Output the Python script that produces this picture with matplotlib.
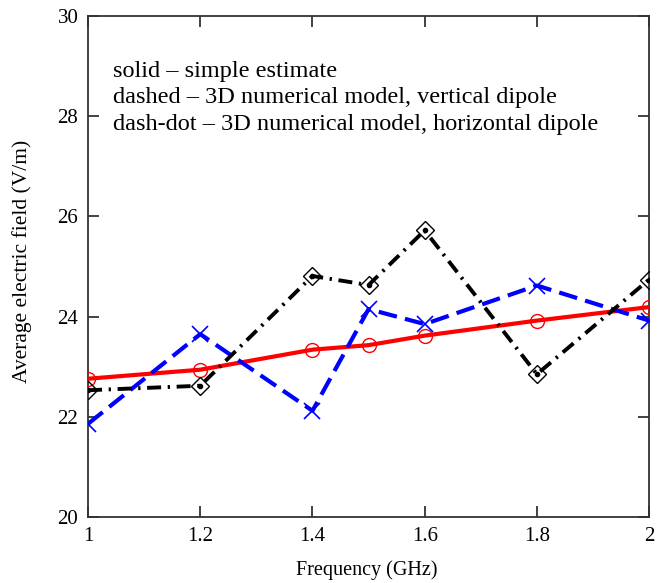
import matplotlib
matplotlib.use("Agg")
import matplotlib.pyplot as plt

plt.rcParams['font.family'] = ['Liberation Serif', 'DejaVu Serif']

# Frequency (GHz) and average electric field (V/m)
freq = [1.0, 1.2, 1.4, 1.5, 1.6, 1.8, 2.0]
simple_estimate = [22.76, 22.94, 23.34, 23.43, 23.62, 23.92, 24.19]
vertical_dipole = [21.86, 23.65, 22.12, 24.15, 23.85, 24.62, 23.92]
horizontal_dipole = [22.53, 22.62, 24.81, 24.63, 25.72, 22.85, 24.74]

xticks = [1, 1.2, 1.4, 1.6, 1.8, 2]
xtick_labels = ['1', '1.2', '1.4', '1.6', '1.8', '2']
yticks = [20, 22, 24, 26, 28, 30]

legend_lines = [
    'solid \u2013 simple estimate',
    'dashed \u2013 3D numerical model, vertical dipole',
    'dash-dot \u2013 3D numerical model, horizontal dipole',
]

fig = plt.figure(figsize=(6.57, 5.83), dpi=100)
ax = fig.add_axes([0.134, 0.1132, 0.854, 0.8594])

ax.plot(freq, simple_estimate, color='#ff0000', lw=3.0, solid_capstyle='butt',
        marker='o', ms=10, mfc='none', mec='#ff0000', mew=1.0, zorder=3)
ax.plot(freq, vertical_dipole, color='#0000ff', lw=3.0, dashes=(4.5, 2.0),
        marker='x', ms=12, mec='#0000ff', mew=1.2, zorder=3)
ax.plot(freq, horizontal_dipole, color='black', lw=2.8, dashes=(3.6, 1.7, 0.6, 1.7),
        marker='D', ms=9, mfc='none', mec='black', mew=1.0, zorder=4)
# small center dots inside the diamonds
ax.plot(freq, horizontal_dipole, ls='none', marker='o', ms=3, color='black', zorder=5)

ax.set_xlim(1, 2)
ax.set_ylim(20, 30)
ax.set_xticks(xticks)
ax.set_xticklabels(xtick_labels)
ax.set_yticks(yticks)

ax.tick_params(direction='in', length=8, width=1.2, top=True, right=True,
               labelsize=15, pad=7, color='#222222')
for sp in ax.spines.values():
    sp.set_linewidth(1.3)
    sp.set_color('#333333')

ax.set_xlabel('Frequency (GHz)', fontsize=14.5, va='center')
ax.xaxis.set_label_coords(0.496, -0.106)
ax.set_ylabel('Average electric field (V/m)', fontsize=15.5)
ax.yaxis.set_label_coords(-0.1, 0.51)

for i, line in enumerate(legend_lines):
    ax.text(0.045, 0.89 - i * 0.053, line, transform=ax.transAxes,
            fontsize=17.5, va='center', ha='left')

fig.savefig('out.png', dpi=100)
